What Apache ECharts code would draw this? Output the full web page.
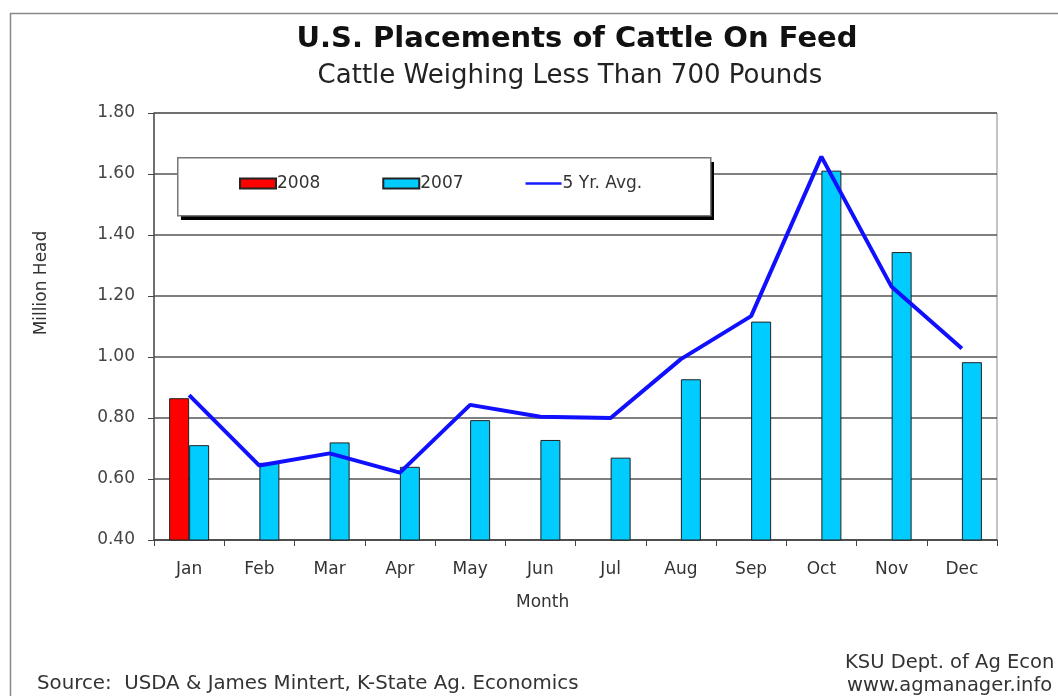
<!DOCTYPE html>
<html>
<head>
<meta charset="utf-8">
<script src="https://cdn.jsdelivr.net/npm/echarts@6/dist/echarts.min.js"></script>
<style>
html,body{margin:0;padding:0;background:#fff;}
#chart{width:1058px;height:696px;}
</style>
</head>
<body>
<div id="chart"></div>
<script>
var months = ['Jan','Feb','Mar','Apr','May','Jun','Jul','Aug','Sep','Oct','Nov','Dec'];
var yTicks = ['0.40','0.60','0.80','1.00','1.20','1.40','1.60','1.80'];
var s2008 = [0.865, null, null, null, null, null, null, null, null, null, null, null];
var s2007 = [0.711, 0.653, 0.720, 0.640, 0.793, 0.728, 0.670, 0.927, 1.116, 1.611, 1.344, 0.983];
var avg5 = [0.875, 0.644, 0.684, 0.621, 0.843, 0.804, 0.800, 0.993, 1.134, 1.657, 1.230, 1.028];

var font = 'DejaVu Sans';
var chart = echarts.init(document.getElementById('chart'));
chart.setOption({
  animation: false,
  backgroundColor: '#ffffff',
  textStyle: { fontFamily: font },
  title: [
    { text: 'U.S. Placements of Cattle On Feed', left: 572, top: 20, textAlign: 'center',
      textStyle: { fontFamily: font, fontSize: 29, fontWeight: 'bold', color: '#111' } },
    { text: 'Cattle Weighing Less Than 700 Pounds', left: 565, top: 58, textAlign: 'center',
      textStyle: { fontFamily: font, fontSize: 26, fontWeight: 'normal', color: '#222' } }
  ],
  legend: {
    left: 239, top: 175,
    padding: 0,
    z: 30,
    itemGap: 62,
    itemWidth: 36, itemHeight: 10,
    textStyle: { fontFamily: font, fontSize: 17, color: '#333', padding: [0, 0, 0, -4] },
    data: [
      { name: '2008', icon: 'rect' },
      { name: '2007', icon: 'rect' },
      { name: '5 Yr. Avg.', icon: 'path://M0,0 L40,0 L40,3 L0,3 Z', itemStyle: { color: '#1a1aff', borderWidth: 0 } }
    ]
  },
  grid: { left: 154, top: 113, width: 843, height: 427, show: true, borderColor: '#888', borderWidth: 1, backgroundColor: 'transparent' },
  xAxis: {
    type: 'category',
    data: months,
    boundaryGap: true,
    axisLine: { lineStyle: { color: '#444', width: 1.5 } },
    axisTick: { show: true, alignWithLabel: false, length: 6, lineStyle: { color: '#444' } },
    axisLabel: { fontFamily: font, fontSize: 17, color: '#333', margin: 21 }
  },
  yAxis: {
    type: 'value',
    min: 0.4, max: 1.8, interval: 0.2,
    axisLine: { show: true, lineStyle: { color: '#555', width: 1.5 } },
    axisTick: { show: true, inside: false, length: 6, lineStyle: { color: '#444' } },
    axisLabel: { fontFamily: font, fontSize: 17, color: '#444', margin: 19,
      formatter: function (v) { return v.toFixed(2); } },
    splitLine: { show: true, lineStyle: { color: '#555', width: 1.5 } }
  },
  series: [
    { name: '2008', type: 'bar', data: s2008, barWidth: 20, barGap: '0%',
      itemStyle: { color: '#ff0000', borderColor: '#222', borderWidth: 1 } },
    { name: '2007', type: 'bar', data: s2007, barWidth: 20, barGap: '0%',
      itemStyle: { color: '#00ccff', borderColor: '#222', borderWidth: 1 } },
    { name: '5 Yr. Avg.', type: 'line', data: avg5, symbol: 'none', z: 5,
      lineStyle: { color: '#1010ff', width: 4 }, itemStyle: { color: '#1010ff' } }
  ],
  graphic: [
    { type: 'rect', left: 8, top: 11, shape: { width: 1200, height: 800 },
      style: { fill: 'none', stroke: '#888', lineWidth: 1.5 }, silent: true, z: -10 },
    { type: 'rect', left: 181, top: 162, shape: { width: 533, height: 58 },
      style: { fill: '#000' }, silent: true, z: 10 },
    { type: 'rect', left: 177, top: 157, shape: { width: 533, height: 58 },
      style: { fill: '#fff', stroke: '#777', lineWidth: 1.5 }, silent: true, z: 11 },
    { type: 'text', left: 516, top: 594, style: { text: 'Month', font: '17px DejaVu Sans', fill: '#333' } },
    { type: 'text', x: 42, y: 283, rotation: Math.PI / 2,
      style: { x: 0, y: 0, text: 'Million Head', font: '17px DejaVu Sans', fill: '#333', align: 'center', verticalAlign: 'middle' } },
    { type: 'text', left: 37, top: 674, style: { text: 'Source:  USDA & James Mintert, K-State Ag. Economics', font: '19.8px DejaVu Sans', fill: '#333' } },
    { type: 'text', left: 845, top: 653, style: { text: 'KSU Dept. of Ag Econ', font: '19.5px DejaVu Sans', fill: '#333' } },
    { type: 'text', left: 847, top: 676, style: { text: 'www.agmanager.info', font: '19.5px DejaVu Sans', fill: '#333' } }
  ]
});
</script>
</body>
</html>
